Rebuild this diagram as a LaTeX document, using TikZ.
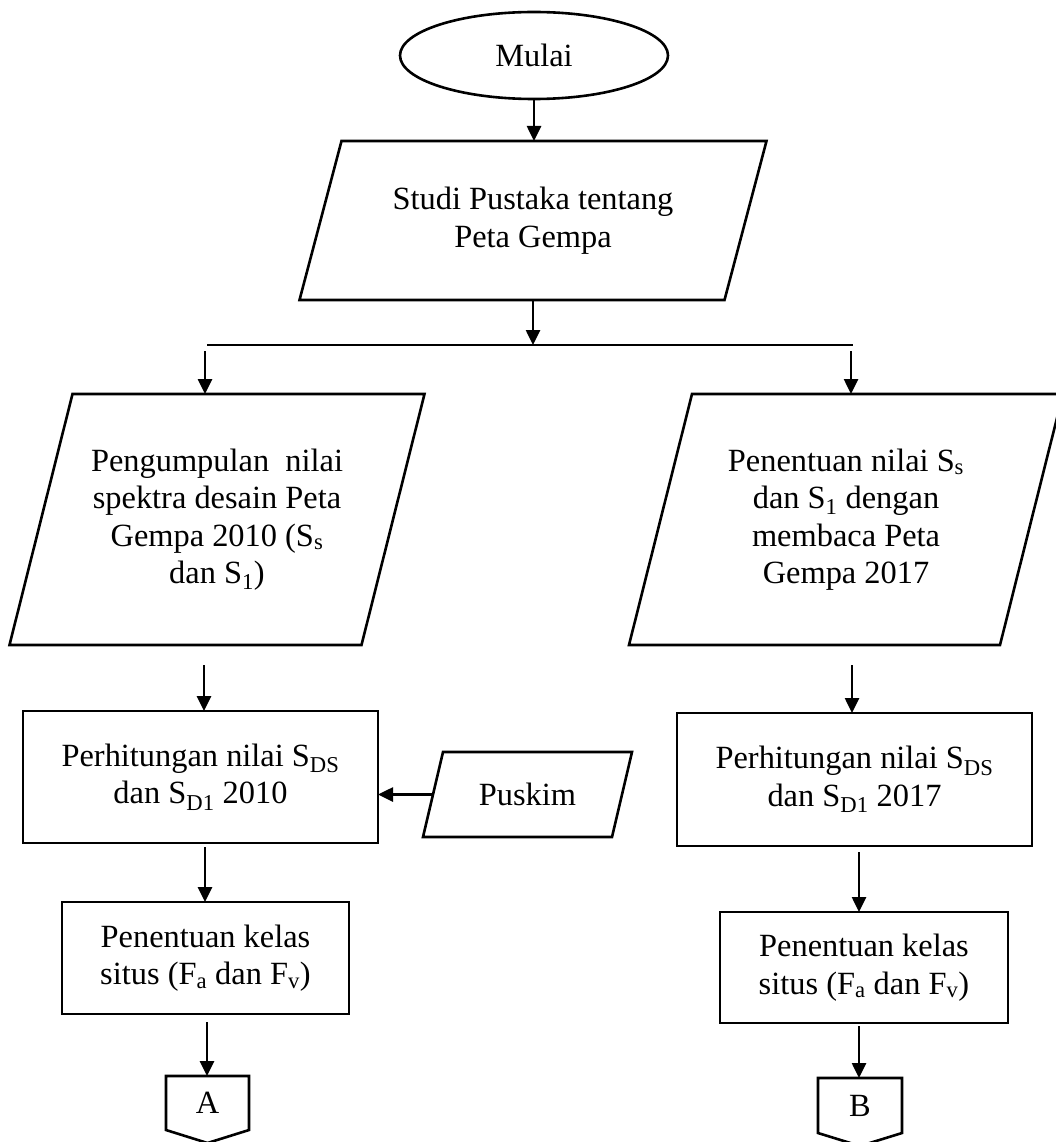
\documentclass[tikz,border=0pt]{standalone}
\usepackage{fontspec}
\setmainfont{Liberation Serif}
\usetikzlibrary{arrows.meta,calc,shapes.geometric}
\newcommand{\fsz}{\fontsize{32.4}{37.5}\selectfont}
\newcommand{\lw}{2.6pt}
\newcommand{\parashape}[2]{%
  \draw[line width=\lw, line join=miter]
    ($(#1.north west)+(#2,0)$) -- ($(#1.north east)+(#2,0)$) --
    ($(#1.south east)+(-#2,0)$) -- ($(#1.south west)+(-#2,0)$) -- cycle;}
\newcommand{\offpage}[2]{%
  \draw[line width=\lw, line join=miter]
    (#1.south west) -- (#1.north west) -- (#1.north east) --
    (#1.south east) -- ($(#1.south)+(0,#2)$) -- cycle;}
\begin{document}
\begin{tikzpicture}[x=1pt,y=-1pt,
  base/.style={inner sep=0pt, outer sep=0pt, font=\fsz, align=center},
  boxnode/.style={base, draw, line width=\lw, rectangle},
  paranode/.style={base, rectangle},
  arr/.style={-{Triangle[length=15pt,width=14pt]}, line width=\lw},
  plain/.style={line width=\lw}]
\useasboundingbox (0,0) rectangle (1056,1142);
\clip (0,0) rectangle (1056,1142);

% start
\node[base, draw, line width=\lw, ellipse, minimum width=268pt, minimum height=87pt] (mulai) at (534,55.5) {Mulai};

% parallelograms
\node[paranode, minimum width=425pt, minimum height=159pt] (p1) at (533,220.5) {Studi Pustaka tentang\\Peta Gempa};
\parashape{p1}{21}

\node[paranode, minimum width=352pt, minimum height=251pt] (p2) at (217,519.5)
  {Pengumpulan\ \ nilai\\spektra desain Peta\\Gempa 2010 (S\textsubscript{s}\\dan S\textsubscript{1})};
\parashape{p2}{31.5}

\node[paranode, minimum width=371pt, minimum height=251pt] (p3) at (846,519.5)
  {Penentuan nilai S\textsubscript{s}\\dan S\textsubscript{1} dengan\\membaca Peta\\Gempa 2017};
\parashape{p3}{31.5}

\node[paranode, minimum width=189pt, minimum height=85pt] (puskim) at (527.5,794.5) {Puskim};
\parashape{puskim}{10}

% process boxes
\node[boxnode, minimum width=355pt, minimum height=132pt] (b1l) at (200.5,777)
  {Perhitungan nilai S\textsubscript{DS}\\dan S\textsubscript{D1} 2010};
\node[boxnode, minimum width=355pt, minimum height=133pt] (b1r) at (854.5,779.5)
  {Perhitungan nilai S\textsubscript{DS}\\dan S\textsubscript{D1} 2017};
\node[boxnode, minimum width=287pt, minimum height=112pt] (b2l) at (205.5,958)
  {Penentuan kelas\\situs (F\textsubscript{a} dan F\textsubscript{v})};
\node[boxnode, minimum width=288pt, minimum height=111pt] (b2r) at (864,967.5)
  {Penentuan kelas\\situs (F\textsubscript{a} dan F\textsubscript{v})};

% off-page connectors
\node[paranode, minimum width=83pt, minimum height=54pt] (conA) at (207.5,1103) {A};
\offpage{conA}{13}
\node[paranode, minimum width=84pt, minimum height=55pt] (conB) at (860,1105.5) {B};
\offpage{conB}{13}

% connectors
\coordinate (hl) at (207,345);
\coordinate (hr) at (853,345);
\coordinate (bl) at (205,351);
\coordinate (br) at (851,351);
\coordinate (l2) at (204,665);
\coordinate (r2) at (852,665);
\coordinate (l3) at (205,847);
\coordinate (r3) at (859,852);
\coordinate (l4) at (207,1022);
\coordinate (r4) at (859,1026);

\draw[arr] (mulai.south) -- (mulai.south |- p1.north);
\draw[arr] (p1.south) -- (p1.south |- hl);
\draw[plain] (hl) -- (hr);
\draw[arr] (bl) -- (bl |- p2.north);
\draw[arr] (br) -- (br |- p3.north);
\draw[arr] (l2) -- (l2 |- b1l.north);
\draw[arr] (r2) -- (r2 |- b1r.north);
\draw[arr] (puskim.west) -- (puskim.west -| b1l.east);
\draw[arr] (l3) -- (l3 |- b2l.north);
\draw[arr] (r3) -- (r3 |- b2r.north);
\draw[arr] (l4) -- (l4 |- conA.north);
\draw[arr] (r4) -- (r4 |- conB.north);
\end{tikzpicture}
\end{document}
